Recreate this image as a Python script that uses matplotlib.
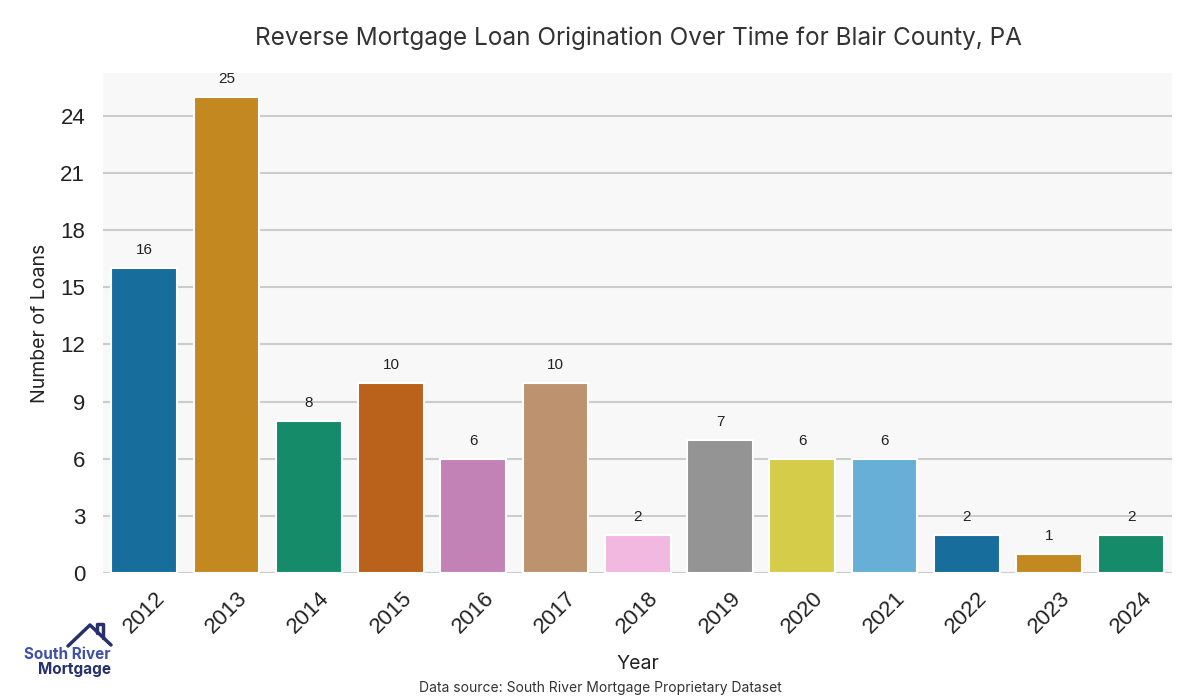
import matplotlib
matplotlib.use('Agg')
import matplotlib.pyplot as plt
import seaborn as sns
import pandas as pd
from matplotlib.lines import Line2D

# data
years = ['2012', '2013', '2014', '2015', '2016', '2017', '2018',
         '2019', '2020', '2021', '2022', '2023', '2024']
loans = [16, 25, 8, 10, 6, 10, 2, 7, 6, 6, 2, 1, 2]

df = pd.DataFrame({'Year': years, 'Loans': loans})

sns.set_style('whitegrid')
plt.rcParams['font.family'] = ['Liberation Sans', 'DejaVu Sans']

fig = plt.figure(figsize=(12, 7), dpi=100)
ax = fig.add_axes([0.086, 0.181, 0.891, 0.715])
ax.set_facecolor('#f8f8f8')

sns.barplot(data=df, x='Year', y='Loans', hue='Year', palette='colorblind',
            legend=False, ax=ax, edgecolor='white', linewidth=1.5, width=0.8)

for p, v in zip(ax.patches, loans):
    ax.annotate(str(v), (p.get_x() + p.get_width() / 2, v),
                xytext=(0, 8), textcoords='offset points',
                ha='center', va='bottom', fontsize=11, color='#222222')

ax.set_ylim(0, 26.25)
ax.set_yticks(range(0, 25, 3))
ax.yaxis.grid(True, color='#cccccc', linewidth=1.5)
ax.xaxis.grid(False)
for s in ax.spines.values():
    s.set_visible(False)
ax.tick_params(axis='y', labelsize=16, colors='#222222', length=0, pad=13)
ax.tick_params(axis='x', labelsize=16, colors='#222222', length=0, rotation=45, pad=10)
ax.set_xlim(-0.5, len(years) - 0.5)

ax.set_xlabel('Year', fontsize=14, family=['Inter', 'DejaVu Sans'], color='#222222', labelpad=13)
ax.set_ylabel('Number of Loans', fontsize=14, family=['Inter', 'DejaVu Sans'], color='#222222',
              labelpad=8)

fig.suptitle('Reverse Mortgage Loan Origination Over Time for Blair County, PA',
             x=0.532, y=0.962, fontsize=17.5, family=['Inter', 'DejaVu Sans'], color='#333333')
fig.text(0.5, 0.012, 'Data source: South River Mortgage Proprietary Dataset',
         ha='center', fontsize=10, family=['Inter', 'DejaVu Sans'], color='#333333')

# logo
navy = '#26306b'
def px(x, y):
    return x / 1200, 1 - y / 700
rx, ry = zip(*[px(68, 646), px(90, 625), px(111, 645)])
fig.add_artist(Line2D(rx, ry, transform=fig.transFigure, color=navy, linewidth=2.5))
cx, cy = zip(*[px(97, 633), px(97, 624), px(103, 624), px(103, 638)])
fig.add_artist(Line2D(cx, cy, transform=fig.transFigure, color=navy, linewidth=2.5))
fig.text(111 / 1200, 1 - 659 / 700, 'South River', fontsize=11, fontweight='bold',
         color='#3f51a8', ha='right', family=['Inter', 'DejaVu Sans'])
fig.text(111 / 1200, 1 - 674 / 700, 'Mortgage', fontsize=11, fontweight='bold',
         color=navy, ha='right', family=['Inter', 'DejaVu Sans'])

fig.savefig('out.png', dpi=100)
